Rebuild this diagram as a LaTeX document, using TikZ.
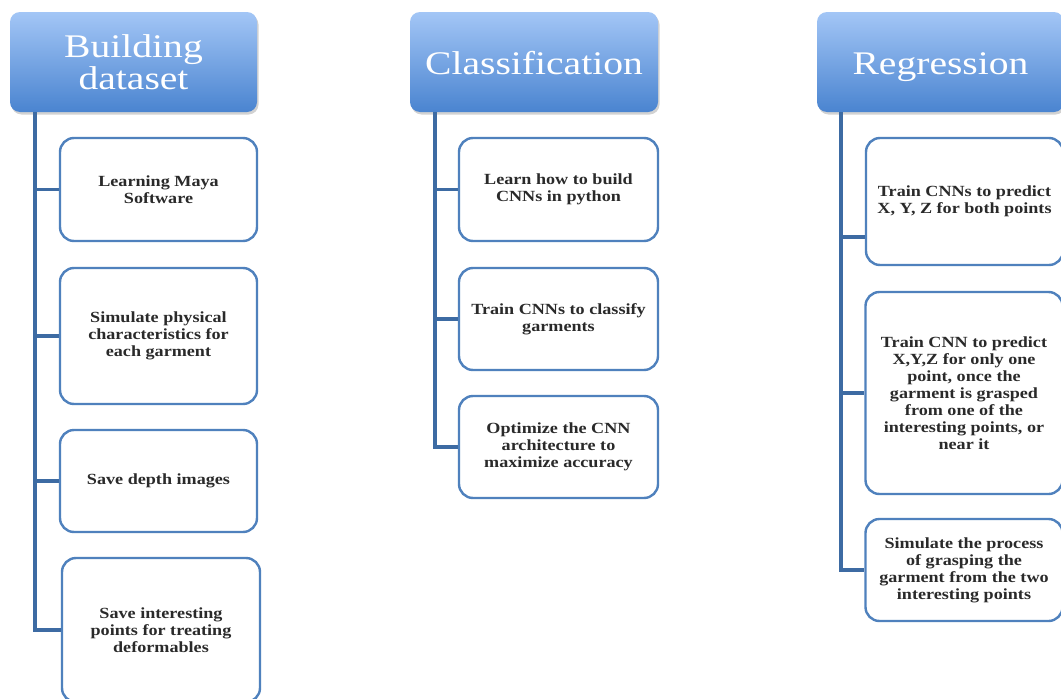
\documentclass[tikz,border=0pt]{standalone}
\usepackage{fontspec}
\setmainfont{Liberation Serif}
\newfontfamily\hdrfont[FakeStretch=1.2]{Liberation Serif}
\newfontfamily\boxfont[FakeStretch=1.17]{Liberation Serif}
\usetikzlibrary{shadows}
\definecolor{hdrtop}{HTML}{A3C6F6}
\definecolor{hdrbot}{HTML}{4A84D0}
\definecolor{boxline}{HTML}{4F81BD}
\definecolor{connline}{HTML}{3D6BA3}
\definecolor{boxtext}{HTML}{2A2A2A}
\tikzset{
  header/.style={rounded corners=10pt, top color=hdrtop, bottom color=hdrbot,
    draw=none, minimum width=247pt, minimum height=100pt, text=white,
    align=center, font=\hdrfont\fontsize{33}{32}\selectfont,
    drop shadow={shadow xshift=1.5pt, shadow yshift=-2.5pt, opacity=0.35}},
  childbox/.style={rounded corners=14pt, draw=boxline, line width=2.4pt, fill=white,
    minimum width=197pt, align=center, text=boxtext,
    font=\boxfont\bfseries\fontsize{15.5}{17}\selectfont},
  conn/.style={draw=connline, line width=3.3pt}
}
\begin{document}
\begin{tikzpicture}[x=1pt,y=-1pt]
\useasboundingbox (0,0) rectangle (1061,699);
\clip (0,0) rectangle (1061,699);
\fill[white] (0,0) rectangle (1061,699);

% headers
\node[header] (h1) at (133.5,62) {Building\\dataset};
\node[header, minimum width=248pt] (h2) at (534,62) {\raisebox{-12pt}[0pt][0pt]{Classification}};
\node[header] (h3) at (940.5,62) {\raisebox{-12pt}[0pt][0pt]{Regression}};

% column 1 children
\node[childbox, minimum height=103pt] (c11) at (158.5,189.5) {Learning Maya\\Software};
\node[childbox, minimum height=136pt] (c12) at (158.5,336) {Simulate physical\\characteristics for\\each garment};
\node[childbox, minimum height=102pt] (c13) at (158.5,481) {Save depth images};
\node[childbox, minimum height=144pt, minimum width=198pt] (c14) at (161,630) {Save interesting\\points for treating\\deformables};

% column 2 children
\node[childbox, minimum height=103pt, minimum width=199pt] (c21) at (558.5,189.5) {Learn how to build\\CNNs in python};
\node[childbox, minimum height=102pt, minimum width=199pt] (c22) at (558.5,319) {Train CNNs to classify\\garments};
\node[childbox, minimum height=102pt, minimum width=199pt] (c23) at (558.5,447) {Optimize the CNN\\architecture to\\maximize accuracy};

% column 3 children
\node[childbox, minimum height=127pt] (c31) at (964.5,201.5) {Train CNNs to predict\\X, Y, Z for both points};
\node[childbox, minimum height=202pt] (c32) at (964,393) {Train CNN to predict\\X,Y,Z for only one\\point, once the\\garment is grasped\\from one of the\\interesting points, or\\near it};
\node[childbox, minimum height=102pt] (c33) at (964,570) {Simulate the process\\of grasping the\\garment from the two\\interesting points};

% connector guide coordinates
\coordinate (v1) at (35,630);
\coordinate (v2) at (435,447);
\coordinate (v3) at (841,570);
\coordinate (k31) at (0,237);

% trunks with last branch
\draw[conn] (h1.south -| v1) -- (v1) -- (c14.west);
\draw[conn] (h2.south -| v2) -- (v2) -- (c23.west);
\draw[conn] (h3.south -| v3) -- (v3) -- (c33.west);

% branches
\draw[conn] (c11.west -| v1) -- (c11.west);
\draw[conn] (c12.west -| v1) -- (c12.west);
\draw[conn] (c13.west -| v1) -- (c13.west);
\draw[conn] (c21.west -| v2) -- (c21.west);
\draw[conn] (c22.west -| v2) -- (c22.west);
\draw[conn] (v3 |- k31) -- (c31.west |- k31);
\draw[conn] (c32.west -| v3) -- (c32.west);
\end{tikzpicture}
\end{document}
